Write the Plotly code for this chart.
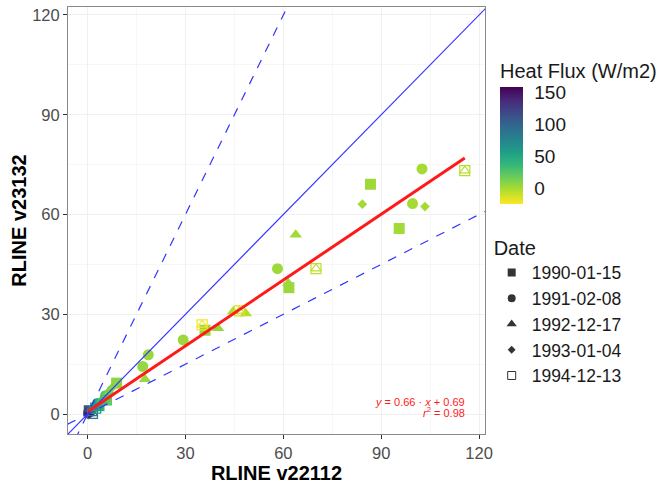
import plotly.graph_objects as go

# --- RLINE v22112 vs v23132 concentrations, grouped by meteorological date ---
DATES = ["1990-01-15", "1991-02-08", "1992-12-17", "1993-01-04", "1994-12-13"]

x_1990 = [86.7, 95.5, 61.7, 36.0, 8.9, 3.5, 0.5, 5.8]
y_1990 = [69.1, 55.8, 38.0, 25.2, 9.3, 2.5, 1.0, 4.2]
hf_1990 = [2, 1, 3, 4, 8, 40, 110, 20]

x_1991 = [102.5, 99.6, 58.2, 29.3, 18.6, 16.9, 3.0, 0.3, 5.5]
y_1991 = [73.7, 63.3, 43.7, 22.3, 17.8, 14.3, 3.2, 0.4, 5.5]
hf_1991 = [0, 1, 2, 3, 4, 5, 45, 130, 25]

x_1992 = [63.8, 61.5, 44.6, 48.5, 40.0, 17.6, 6.5, 1.2, 4.2]
y_1992 = [53.9, 39.3, 30.8, 30.2, 25.8, 10.5, 6.8, 1.5, 4.0]
hf_1992 = [1, 3, -3, -4, 4, 3, 14, 75, 30]

x_1993 = [84.2, 103.4, 7.4, 2.0, 1.0, 4.5, 0.2]
y_1993 = [63.1, 62.4, 7.8, 2.5, 0.6, 3.3, -0.2]
hf_1993 = [1, 0, 10, 55, 95, 35, 150]

x_1994 = [115.6, 70.0, 46.5, 35.1, 1.5, 2.5]
y_1994 = [73.2, 43.7, 31.0, 26.8, 0.2, 1.8]
hf_1994 = [-5, -7, -12, -22, 85, 60]

FLUX_LIMITS = [-24.5, 157.8]
FLUX_TICKS = [0, 50, 100, 150]
AXIS_TICKS = [0, 30, 60, 90, 120]

# linear fit reported on the panel
FIT_SLOPE = 0.66
FIT_INTERCEPT = 0.69
FIT_R2 = 0.98

# 1:1 line and factor-of-two envelope
REF_SLOPES = [1.0, 2.0, 0.5]
REF_DASH = ["solid", "dash", "dash"]

AX_RANGE_X = [-6, 121.8]
AX_RANGE_Y = [-6, 122.4]

FONT = "Liberation Sans, Arial, sans-serif"

groups = [
    (DATES[0], x_1990, y_1990, hf_1990, ["square"], [11]),
    (DATES[1], x_1991, y_1991, hf_1991, ["circle"], [11]),
    (DATES[2], x_1992, y_1992, hf_1992, ["triangle-up"], [11]),
    (DATES[3], x_1993, y_1993, hf_1993, ["diamond"], [7.5]),
    (DATES[4], x_1994, y_1994, hf_1994, ["square-open", "triangle-up-open"], [10, 9]),
]
legend_symbols = ["square", "circle", "triangle-up", "diamond", "square-open"]
legend_sizes = [8, 8, 9, 6, 8]

fig = go.Figure()

first = True
for name, xs, ys, hf, symbols, sizes in groups:
    for sym, sz in zip(symbols, sizes):
        marker = dict(
            symbol=sym,
            size=sz,
            color=hf,
            colorscale="Viridis",
            reversescale=True,
            cmin=FLUX_LIMITS[0],
            cmax=FLUX_LIMITS[1],
            line=dict(width=1.2) if sym.endswith("open") else dict(width=0),
            showscale=first,
        )
        if first:
            marker["colorbar"] = dict(
                title=dict(text="Heat Flux (W/m2)", side="top",
                           font=dict(family=FONT, size=20, color="#1a1a1a")),
                tickvals=FLUX_TICKS,
                ticks="outside",
                ticklen=8,
                tickcolor="white",
                tickfont=dict(family=FONT, size=19, color="#1a1a1a"),
                thickness=23,
                outlinewidth=0,
                lenmode="pixels",
                len=144,
                x=1.036,
                xanchor="left",
                xpad=0,
                y=0.876,
                yanchor="top",
                ypad=0,
            )
            first = False
        fig.add_trace(go.Scatter(
            x=xs, y=ys, mode="markers", marker=marker,
            name=name, showlegend=False, hoverinfo="x+y+name",
        ))

# reference lines
line_x = [AX_RANGE_X[0] - 10, AX_RANGE_X[1] + 10]
for slope, dash in zip(REF_SLOPES, REF_DASH):
    fig.add_trace(go.Scatter(
        x=line_x, y=[slope * v for v in line_x], mode="lines",
        line=dict(color="#3333ff", width=1.2, dash=dash),
        showlegend=False, hoverinfo="skip",
    ))

# fitted regression line over the data span
all_x = x_1990 + x_1991 + x_1992 + x_1993 + x_1994
fx = [min(all_x), max(all_x)]
fig.add_trace(go.Scatter(
    x=fx, y=[FIT_SLOPE * v + FIT_INTERCEPT for v in fx], mode="lines",
    line=dict(color="#ff1a1a", width=3), showlegend=False, hoverinfo="skip",
))

# legend-only entries for the date shapes
for name, sym, sz in zip(DATES, legend_symbols, legend_sizes):
    fig.add_trace(go.Scatter(
        x=[None], y=[None], mode="markers", name=name,
        marker=dict(symbol=sym, size=sz, color="#333333",
                    line=dict(width=1, color="#666666") if sym.endswith("open") else dict(width=0)),
    ))

fig.add_annotation(
    x=116.2, y=3.7, xref="x", yref="y", xanchor="right", yanchor="middle",
    text=f"<i>y</i> = {FIT_SLOPE:.2f} · <i>x</i> + {FIT_INTERCEPT:.2f}",
    showarrow=False, font=dict(family=FONT, size=11, color="#ff1a1a"),
)
fig.add_annotation(
    x=116.2, y=0.6, xref="x", yref="y", xanchor="right", yanchor="middle",
    text=f"<i>r</i><sup>2</sup> = {FIT_R2:.2f}",
    showarrow=False, font=dict(family=FONT, size=11, color="#ff1a1a"),
)

axis_common = dict(
    tickvals=AXIS_TICKS,
    ticks="outside", ticklen=4, tickcolor="#333333", tickwidth=1,
    tickfont=dict(family=FONT, size=16.5, color="#4d4d4d"),
    showline=True, linecolor="#8a8a8a", linewidth=1, mirror=True,
    showgrid=True, gridcolor="#f0f0f0", gridwidth=1,
    minor=dict(showgrid=True, gridcolor="#f7f7f7", gridwidth=0.6, tickvals=[15, 45, 75, 105]),
    zeroline=False,
)

fig.update_layout(
    width=663, height=484,
    margin=dict(l=68, r=178, t=7, b=50, autoexpand=False),
    paper_bgcolor="white", plot_bgcolor="white",
    xaxis=dict(range=AX_RANGE_X, **axis_common,
               title=dict(text="<b>RLINE v22112</b>", standoff=4,
                          font=dict(family=FONT, size=20, color="#000000"))),
    yaxis=dict(range=AX_RANGE_Y, **axis_common,
               title=dict(text="<b>RLINE v23132</b>", standoff=0,
                          font=dict(family=FONT, size=20, color="#000000"))),
    legend=dict(
        title=dict(text="Date", font=dict(family=FONT, size=20, color="#1a1a1a")),
        font=dict(family=FONT, size=17.5, color="#1a1a1a"),
        x=1.016, xanchor="left", y=0.481, yanchor="top",
        bgcolor="rgba(0,0,0,0)", tracegroupgap=0, itemsizing="trace",
    ),
    showlegend=True,
)

fig.write_html("out.html")
